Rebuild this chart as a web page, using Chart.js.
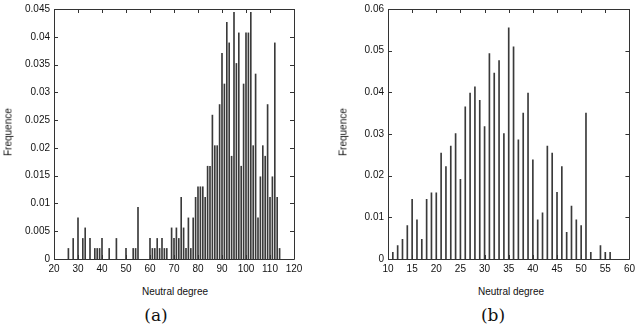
<!DOCTYPE html>
<html>
<head>
<meta charset="utf-8">
<script src="https://cdn.jsdelivr.net/npm/chart.js@4.4.1/dist/chart.umd.min.js"></script>
<style>
  body { margin: 0; background: #fff; width: 640px; height: 326px; overflow: hidden; position: relative; }
  canvas { position: absolute; top: 0; }
  #chartA { left: 0; }
  #chartB { left: 320px; }
  .lbl { position: absolute; font: 10px "Liberation Sans", Arial, sans-serif; color: #111; white-space: nowrap; }
  .ylbl { transform: translate(-50%, -50%) rotate(-90deg); }
  .xlbl { transform: translate(-50%, -50%); }
  .cap { position: absolute; font: 17px "DejaVu Serif", serif; color: #111; transform: translate(-50%, -50%); }
</style>
</head>
<body>
<canvas id="chartA" width="320" height="282"></canvas>
<canvas id="chartB" width="320" height="282"></canvas>
<div class="lbl ylbl" style="left:8px; top:132px;">Frequence</div>
<div class="lbl ylbl" style="left:343px; top:132px;">Frequence</div>
<div class="lbl xlbl" style="left:175px; top:291px;">Neutral degree</div>
<div class="lbl xlbl" style="left:511px; top:291px;">Neutral degree</div>
<div class="cap" style="left:156px; top:315px;">(a)</div>
<div class="cap" style="left:493px; top:315px;">(b)</div>
<script>
// panel (a)
const degreesA = [26, 28, 30, 32, 33, 35, 37, 38, 39, 40, 43, 46, 50, 53, 54, 55,
    60, 61, 62, 63, 64, 65, 66, 67, 69, 70, 71, 72, 73, 74, 75, 76, 77, 78, 79,
    80, 81, 82, 83, 84, 85, 86, 87, 88, 89, 90, 91, 92, 93, 94, 95, 96, 97, 98, 99,
    100, 101, 102, 103, 104, 105, 106, 107, 108, 109, 110, 111, 112, 113, 114];
const freqA = [0.0019, 0.0037, 0.0074, 0.0037, 0.0056, 0.0037, 0.0019, 0.0019, 0.0019, 0.0037,
    0.0019, 0.0037, 0.0019, 0.0019, 0.0019, 0.0093,
    0.0037, 0.0019, 0.0019, 0.0037, 0.0019, 0.0037, 0.0019, 0.0019, 0.0056, 0.0037,
    0.0056, 0.0037, 0.0111, 0.0056, 0.0019, 0.0074, 0.0019, 0.0074, 0.0111,
    0.0130, 0.0130, 0.0130, 0.0111, 0.0167, 0.0167, 0.0259, 0.0204, 0.0204, 0.0278,
    0.0370, 0.0315, 0.0426, 0.0389, 0.0185, 0.0444, 0.0352, 0.0407, 0.0167, 0.0315,
    0.0407, 0.0407, 0.0444, 0.0204, 0.0333, 0.0074, 0.0148, 0.0204, 0.0185, 0.0278,
    0.0111, 0.0148, 0.0389, 0.0111, 0.0019];

// panel (b)
const degreesB = [11, 12, 13, 14, 15, 16, 17, 18, 19, 20, 21, 22, 23, 24, 25, 26, 27, 28, 29, 30,
    31, 32, 33, 34, 35, 36, 37, 38, 39, 40, 41, 42, 43, 44, 45, 46, 47, 48, 49, 50,
    51, 52, 54, 55, 56];
const freqB = [0.0016, 0.0032, 0.0047, 0.0080, 0.0143, 0.0094, 0.0047, 0.0143, 0.0159, 0.0159,
    0.0254, 0.0222, 0.0271, 0.0301, 0.0191, 0.0365, 0.0398, 0.0413, 0.0381, 0.0318,
    0.0493, 0.0446, 0.0476, 0.0301, 0.0555, 0.0509, 0.0286, 0.0350, 0.0398, 0.0238,
    0.0094, 0.0111, 0.0271, 0.0254, 0.0160, 0.0222, 0.0064, 0.0127, 0.0094, 0.0080,
    0.0350, 0.0016, 0.0032, 0.0016, 0.0016];

const axisColor = '#333';
const textColor = '#111';

// box round the plot area with ticks pointing inwards on all four sides
const innerTicks = {
    id: 'innerTicks',
    afterDraw(chart) {
        const ctx = chart.ctx;
        const a = chart.chartArea;
        const len = 4;
        ctx.save();
        ctx.strokeStyle = axisColor;
        ctx.lineWidth = 1;
        ctx.beginPath();
        ctx.rect(Math.round(a.left) + 0.5, Math.round(a.top) + 0.5,
            Math.round(a.right - a.left), Math.round(a.bottom - a.top));
        chart.scales.x.ticks.forEach(t => {
            const px = Math.round(chart.scales.x.getPixelForValue(t.value)) + 0.5;
            ctx.moveTo(px, a.top); ctx.lineTo(px, a.top + len);
            ctx.moveTo(px, a.bottom); ctx.lineTo(px, a.bottom - len);
        });
        chart.scales.y.ticks.forEach(t => {
            const py = Math.round(chart.scales.y.getPixelForValue(t.value)) + 0.5;
            ctx.moveTo(a.left, py); ctx.lineTo(a.left + len, py);
            ctx.moveTo(a.right, py); ctx.lineTo(a.right - len, py);
        });
        ctx.stroke();
        ctx.restore();
    }
};

function makeChart(id, degrees, freqs, opt) {
    const ctx = document.getElementById(id).getContext('2d');
    return new Chart(ctx, {
        type: 'bar',
        data: {
            datasets: [{
                data: degrees.map((d, i) => ({ x: d, y: freqs[i] })),
                backgroundColor: '#3a3a3a',
                borderWidth: 0,
                barThickness: 1
            }]
        },
        options: {
            responsive: false,
            animation: false,
            layout: { padding: { top: 5, right: opt.padRight, left: 0, bottom: 0 } },
            plugins: { legend: { display: false }, tooltip: { enabled: false } },
            scales: {
                x: {
                    type: 'linear',
                    min: opt.xMin, max: opt.xMax,
                    offset: false,
                    grid: { display: false, drawTicks: false, offset: false },
                    border: { display: false },
                    ticks: {
                        stepSize: opt.xStep, padding: 5, color: textColor,
                        maxRotation: 0, autoSkip: false,
                        font: { family: 'Liberation Sans', size: 10, lineHeight: 1 }
                    },
                    afterFit: s => { s.height = 23; }
                },
                y: {
                    min: 0, max: opt.yMax,
                    grid: { display: false, drawTicks: false },
                    border: { display: false },
                    ticks: {
                        stepSize: opt.yStep, padding: 4, color: textColor, autoSkip: false,
                        font: { family: 'Liberation Sans', size: 10, lineHeight: 1 },
                        callback: v => String(+v.toFixed(3))
                    },
                    afterFit: s => { s.width = opt.yWidth; }
                }
            }
        },
        plugins: [innerTicks]
    });
}

makeChart('chartA', degreesA, freqA,
    { xMin: 20, xMax: 120, xStep: 10, yMax: 0.045, yStep: 0.005, yWidth: 54, padRight: 26 });
makeChart('chartB', degreesB, freqB,
    { xMin: 10, xMax: 60, xStep: 5, yMax: 0.06, yStep: 0.01, yWidth: 68, padRight: 7 });
</script>
</body>
</html>
